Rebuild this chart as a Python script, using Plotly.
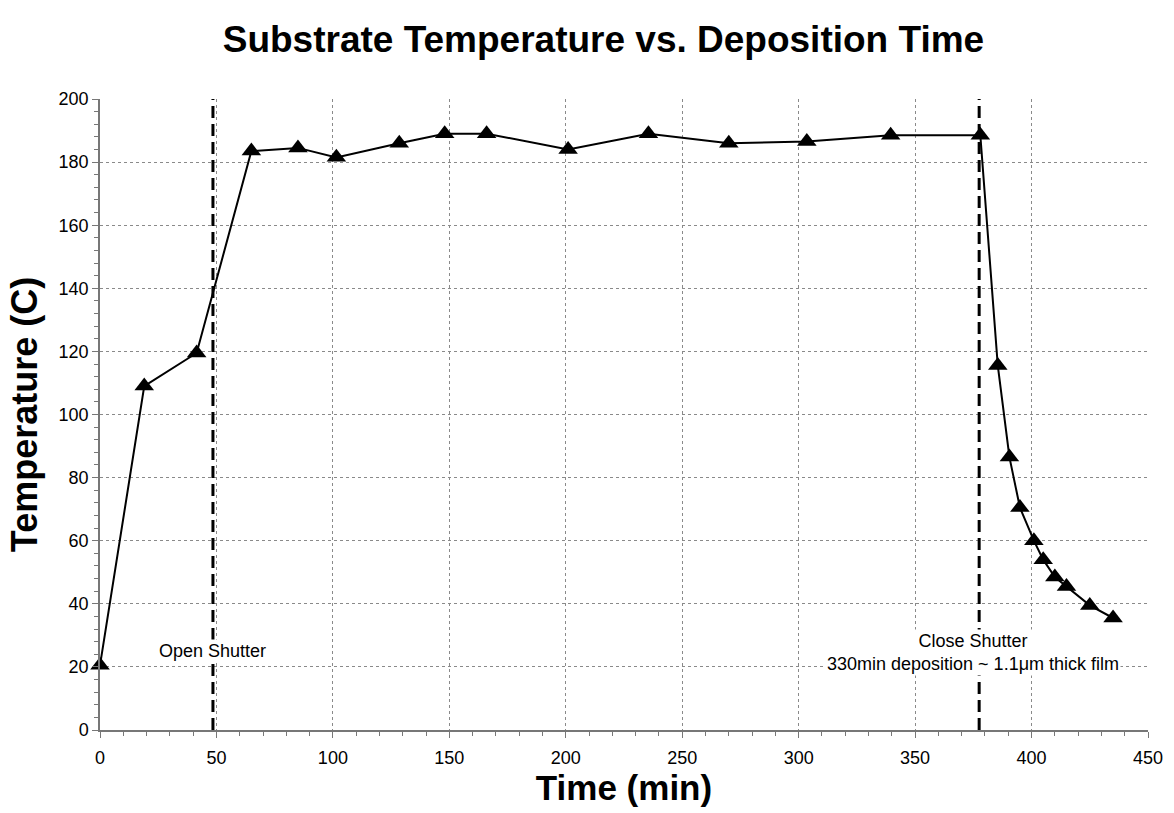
import plotly.graph_objects as go

# Data
time_min = [0, 19, 41.5, 65, 85, 101.5, 128.5, 148, 166, 201, 235.5, 270, 303.5,
            339.5, 378, 385.5, 390.5, 395, 401, 405, 410, 415, 425, 435]
temp_c = [20.5, 109, 119.5, 183.5, 184.5, 181.5, 186, 189, 189, 184, 189, 186, 186.5,
          188.5, 188.5, 115.5, 86.5, 70.5, 60, 54, 48.5, 45.5, 39.5, 35.5]

open_shutter_t = 48.5
close_shutter_t = 377.5

x_ticks = [0, 50, 100, 150, 200, 250, 300, 350, 400, 450]
y_ticks = [0, 20, 40, 60, 80, 100, 120, 140, 160, 180, 200]

FONT = "Liberation Sans, Arial, sans-serif"

fig = go.Figure()
fig.add_trace(go.Scatter(
    x=time_min, y=temp_c, mode="lines+markers",
    line=dict(color="black", width=2),
    marker=dict(symbol="triangle-up", size=17, color="black"),
    showlegend=False, cliponaxis=False,
))

for t in (open_shutter_t, close_shutter_t):
    fig.add_shape(type="line", xref="x", yref="y", x0=t, x1=t, y0=0, y1=202,
                  line=dict(color="black", width=3, dash="12px,6px"), layer="above")

fig.add_annotation(x=open_shutter_t, y=24.9, xref="x", yref="y", text="Open Shutter",
                   showarrow=False, bgcolor="white", font=dict(family=FONT, size=18, color="black"))
fig.add_annotation(x=close_shutter_t - 2.5, y=24.5, xref="x", yref="y",
                   text="Close Shutter<br>330min deposition ~ 1.1\u03bcm thick film",
                   showarrow=False, bgcolor="white", align="center",
                   font=dict(family=FONT, size=18, color="black"))

axis_common = dict(
    showgrid=True, gridcolor="#8a8a8a", griddash="3px,3px", gridwidth=1,
    showline=True, linecolor="#777777", linewidth=1.5,
    ticks="outside", ticklen=6, tickcolor="#777777", tickwidth=1,
    zeroline=False, tickfont=dict(family=FONT, size=18, color="black"),
    mirror=False,
)

fig.update_xaxes(range=[0, 450], tickvals=x_ticks,
                 minor=dict(dtick=10, ticks="outside", ticklen=4, tickcolor="#777777", showgrid=False),
                 title=dict(text="<b>Time (min)</b>", font=dict(family=FONT, size=35, color="black"), standoff=8),
                 ticklabelstandoff=5, **axis_common)
fig.update_yaxes(range=[0, 200], tickvals=y_ticks,
                 minor=dict(dtick=4, ticks="outside", ticklen=4, tickcolor="#777777", showgrid=False),
                 title=dict(text="<b>Temperature (C)</b>", font=dict(family=FONT, size=36, color="black"), standoff=10),
                 ticklabelstandoff=0, **axis_common)

fig.update_layout(
    width=1174, height=813,
    margin=dict(l=100, r=26, t=99, b=83),
    paper_bgcolor="white", plot_bgcolor="white",
    title=dict(text="<b>Substrate Temperature vs. Deposition Time</b>",
               x=0.514, xanchor="center", y=0.952, yanchor="middle",
               font=dict(family=FONT, size=37, color="black")),
)

fig.write_html("out.html")
